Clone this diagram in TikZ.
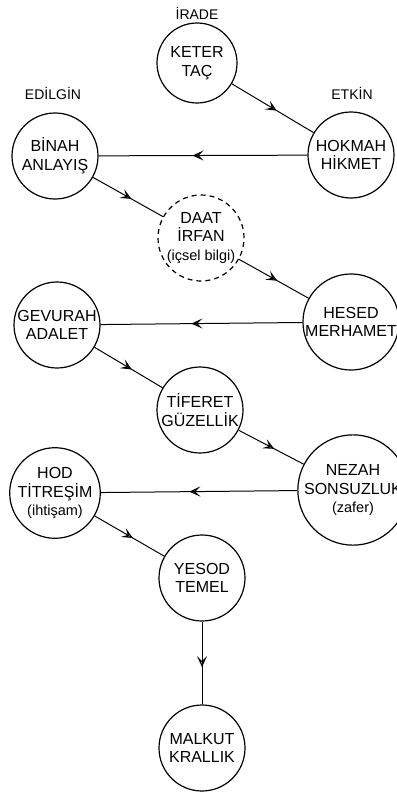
\documentclass[tikz,border=0pt]{standalone}
\usepackage{fontspec}
\setmainfont{Liberation Sans}
\usetikzlibrary{arrows.meta,decorations.markings}
\tikzset{
  x=1pt,y=-1pt,
  sefira/.style={circle,draw,line width=1.2pt,minimum size=86pt,inner sep=0pt,align=center,
    font=\fontsize{16}{18.5}\selectfont},
  hidden/.style={sefira,dash pattern=on 5pt off 4pt},
  toplabel/.style={font=\fontsize{14}{16}\selectfont},
  flow/.style={line width=1pt,postaction={decorate},
    decoration={markings,mark=at position 0.55 with {\arrow{Stealth[open,length=11pt,width=10pt,inset=5pt,line width=1.1pt]}}}}
}
\newcommand{\sm}[1]{{\fontsize{14.5}{18.5}\selectfont #1}}
\begin{document}
\begin{tikzpicture}
\useasboundingbox (0,0) rectangle (396,797);
\node[toplabel] (lirade) at (197,13) {İRADE};
\node[toplabel] (ledil) at (53,93) {EDİLGİN};
\node[toplabel] (letkin) at (352,93) {ETKİN};

\node[sefira,minimum size=80pt] (keter) at (197,63) {KETER\\TAÇ};
\node[sefira] (hokmah) at (351,155) {HOKMAH\\HİKMET};
\node[sefira] (binah) at (55,156) {BİNAH\\ANLAYIŞ};
\node[hidden] (daat) at (201,238) {DAAT\\İRFAN\\\sm{(içsel bilgi)}};
\node[sefira] (hesed) at (351,322) {HESED\\MERHAMET};
\node[sefira] (gevurah) at (57,325) {GEVURAH\\ADALET};
\node[sefira] (tiferet) at (200,410) {TİFERET\\GÜZELLİK};
\node[sefira] (nezah) at (353,490) {NEZAH\\SONSUZLUK\\\sm{(zafer)}};
\node[sefira] (hod) at (55,493) {HOD\\TİTREŞİM\\\sm{(ihtişam)}};
\node[sefira] (yesod) at (202,578) {YESOD\\TEMEL};
\node[sefira] (malkut) at (202,748) {MALKUT\\KRALLIK};

\draw[flow] (keter) -- (hokmah);
\draw[flow] (hokmah) -- (binah);
\draw[flow] (binah) -- (daat);
\draw[flow] (daat) -- (hesed);
\draw[flow] (hesed) -- (gevurah);
\draw[flow] (gevurah) -- (tiferet);
\draw[flow] (tiferet) -- (nezah);
\draw[flow] (nezah) -- (hod);
\draw[flow] (hod) -- (yesod);
\draw[flow] (yesod) -- (malkut);
\end{tikzpicture}
\end{document}
